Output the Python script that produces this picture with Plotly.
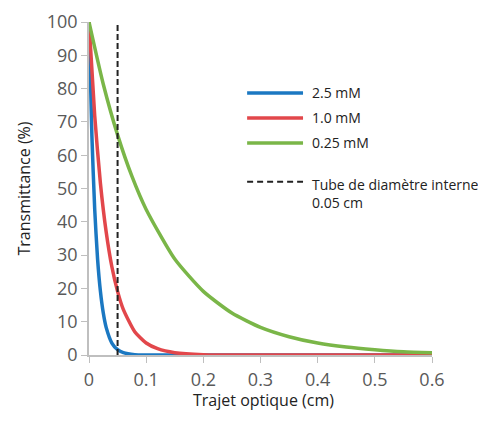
import plotly.graph_objects as go

# Path length (cm) and transmittance (%)
x_blue = [0, 0.005, 0.01, 0.015, 0.02, 0.025, 0.03, 0.04, 0.05, 0.06, 0.08, 0.1, 0.2, 0.6]
t_blue = [100, 66.1, 43.7, 28.8, 19.1, 12.6, 8.3, 3.6, 1.6, 0.7, 0.1, 0, 0, 0]

x_red = [0, 0.01, 0.02, 0.03, 0.04, 0.05, 0.06, 0.08, 0.1, 0.12, 0.15, 0.2, 0.3, 0.6]
t_red = [100, 71.8, 51.5, 37.0, 26.5, 19.1, 13.7, 7.0, 3.6, 1.9, 0.7, 0.1, 0, 0]

x_green = [0, 0.025, 0.05, 0.075, 0.1, 0.15, 0.2, 0.25, 0.3, 0.35, 0.4, 0.45, 0.5, 0.55, 0.6]
t_green = [100, 81.3, 66.1, 53.7, 43.7, 28.8, 19.1, 12.6, 8.3, 5.5, 3.6, 2.4, 1.6, 1.0, 0.7]

tube_x = [0.05, 0.05]
tube_y = [0, 100]

names = ["2.5 mM", "1.0 mM", "0.25 mM"]
tube_name = "Tube de diamètre interne<br>0.05 cm"
colors = ["#1b78c2", "#e2474b", "#7ab648"]

fig = go.Figure()
for xs, ys, col in zip([x_blue, x_red, x_green], [t_blue, t_red, t_green], colors):
    fig.add_trace(go.Scatter(
        x=xs, y=ys, mode="lines", showlegend=False,
        line=dict(color=col, width=3.5, shape="spline", smoothing=0.6)))

fig.add_trace(go.Scatter(
    x=tube_x, y=tube_y, mode="lines", showlegend=False,
    line=dict(color="#222222", width=2, dash="6px,3px")))

# hand-drawn legend, like the original figure's free-floating key
leg_rows = [0.787, 0.712, 0.637]
for name, col, yy in zip(names, colors, leg_rows):
    fig.add_shape(type="line", xref="paper", yref="paper", x0=0.461, x1=0.624, y0=yy, y1=yy,
                  line=dict(color=col, width=3.5))
    fig.add_annotation(xref="paper", yref="paper", x=0.644, y=yy, text=name, showarrow=False,
                       xanchor="left", yanchor="middle", font=dict(size=14, color="#222222"))
fig.add_shape(type="line", xref="paper", yref="paper", x0=0.461, x1=0.624, y0=0.520, y1=0.520,
              line=dict(color="#222222", width=2, dash="6px,4px"))
fig.add_annotation(xref="paper", yref="paper", x=0.644, y=0.548, text=tube_name, showarrow=False,
                   xanchor="left", yanchor="top", align="left", font=dict(size=14, color="#222222"))

# x-axis title as an annotation (standoff is ignored without automargin)
fig.add_annotation(xref="paper", yref="paper", x=0.51, y=-0.175, text="Trajet optique (cm)",
                   showarrow=False, xanchor="center", yanchor="bottom",
                   font=dict(size=16, color="#222222"))

axis_font = dict(family="Open Sans", size=18, color="#595959")
# the page body adds an 8px margin, so the figure is 16px smaller than the window
fig.update_layout(
    width=470, height=406,
    template="plotly_white",
    margin=dict(l=81, r=46, t=14, b=59),
    font=dict(family="Open Sans", color="#222222"),
    xaxis=dict(range=[0, 0.6], dtick=0.1, showgrid=False, zeroline=False, automargin=False,
               showline=True, linecolor="#bfbfbf", linewidth=1.5,
               ticks="outside", ticklen=6, tickcolor="#bfbfbf", tickfont=axis_font,
               ticklabelstandoff=2),
    yaxis=dict(range=[0, 100], dtick=10, showgrid=False, zeroline=False, automargin=False,
               showline=True, linecolor="#bfbfbf", linewidth=1.5,
               ticks="outside", ticklen=6, tickcolor="#bfbfbf", tickfont=axis_font,
               title=dict(text="Transmittance (%)", font=dict(size=16, color="#222222"), standoff=12)),
)

fig.write_html("out.html")
